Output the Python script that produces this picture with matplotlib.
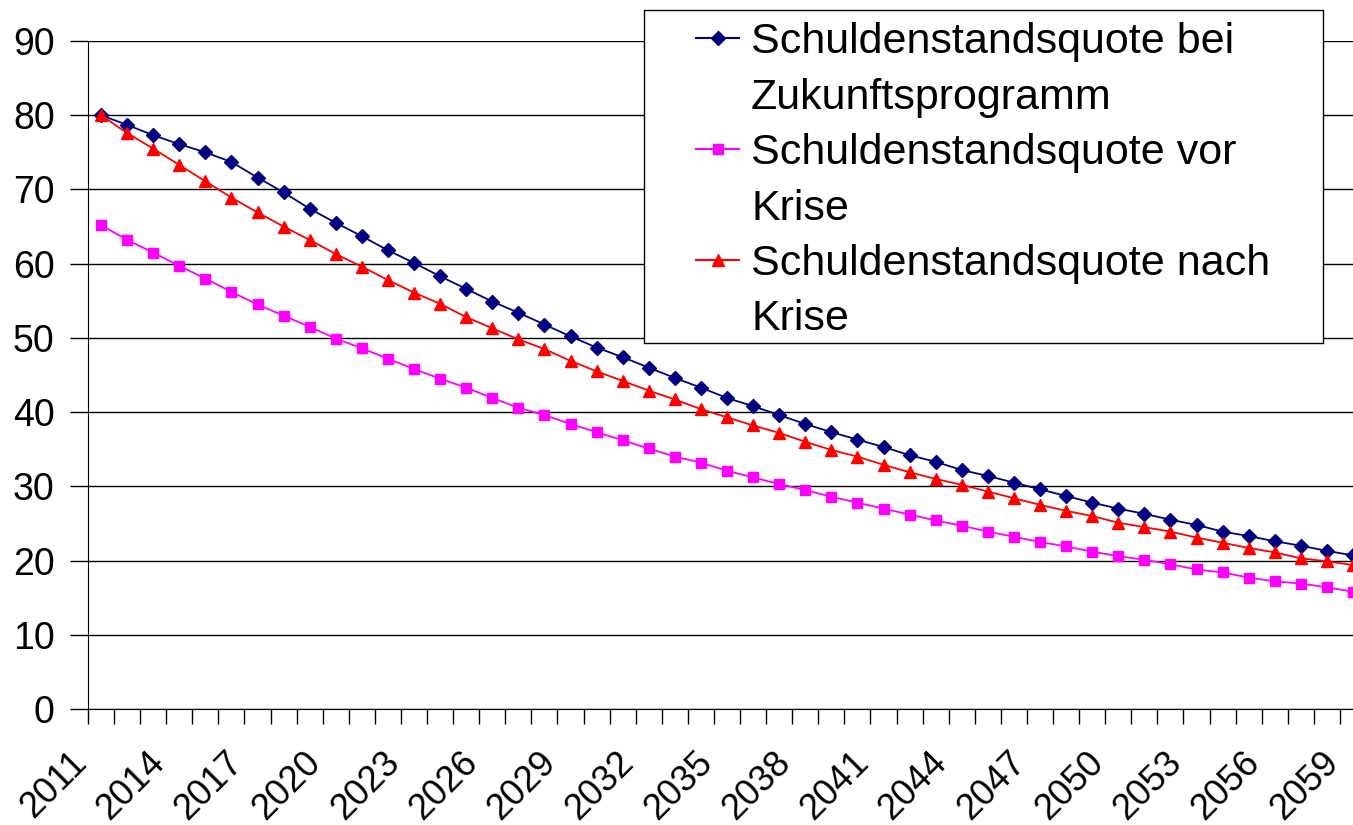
import numpy as np
import matplotlib
matplotlib.use("Agg")
import matplotlib.pyplot as plt
import matplotlib.transforms as mtransforms
from matplotlib.patches import Rectangle
from matplotlib.lines import Line2D

plt.rcParams['font.family'] = ['Liberation Sans', 'DejaVu Sans']

# Jahre 2011..2059 (eine Kategorie pro Jahr)
years = list(range(2011, 2060))

# Schuldenstandsquote bei Zukunftsprogramm
zukunft = [80.0, 78.7, 77.3, 76.1, 75.0, 73.7, 71.6, 69.6, 67.4, 65.5,
           63.7, 61.8, 60.1, 58.3, 56.6, 54.9, 53.4, 51.8, 50.2, 48.7,
           47.4, 46.0, 44.6, 43.3, 41.9, 40.8, 39.6, 38.4, 37.3, 36.3,
           35.3, 34.2, 33.3, 32.2, 31.4, 30.5, 29.6, 28.7, 27.8, 27.0,
           26.3, 25.5, 24.8, 23.9, 23.3, 22.6, 22.0, 21.3, 20.7]

# Schuldenstandsquote vor Krise
vor_krise = [65.2, 63.2, 61.5, 59.7, 58.0, 56.2, 54.5, 53.0, 51.5, 49.9,
             48.6, 47.2, 45.8, 44.5, 43.3, 41.9, 40.6, 39.6, 38.4, 37.3,
             36.2, 35.1, 34.0, 33.2, 32.1, 31.2, 30.3, 29.5, 28.6, 27.8,
             27.0, 26.2, 25.4, 24.7, 23.9, 23.2, 22.5, 21.9, 21.2, 20.6,
             20.1, 19.5, 18.8, 18.4, 17.7, 17.2, 16.9, 16.4, 15.8]

# Schuldenstandsquote nach Krise
nach_krise = [80.0, 77.6, 75.5, 73.3, 71.1, 68.9, 66.9, 65.0, 63.2, 61.3,
              59.6, 57.8, 56.1, 54.6, 52.8, 51.3, 49.8, 48.5, 46.9, 45.5,
              44.2, 42.9, 41.7, 40.4, 39.3, 38.2, 37.2, 36.0, 34.9, 34.0,
              32.9, 31.9, 31.0, 30.2, 29.3, 28.4, 27.5, 26.7, 26.0, 25.1,
              24.5, 23.9, 23.1, 22.4, 21.7, 21.1, 20.3, 19.9, 19.4]

# Legendentexte, je zwei Zeilen
labels = [('Schuldenstandsquote bei', 'Zukunftsprogramm'),
          ('Schuldenstandsquote vor', 'Krise'),
          ('Schuldenstandsquote nach', 'Krise')]

fig = plt.figure(figsize=(13.53, 8.25), dpi=100)
ax = fig.add_axes([88/1353, 116/825, 1 - 88/1353, 668/825])

x = np.arange(len(years))
l1, = ax.plot(x, zukunft, color='#000080', lw=1.3, marker='D', ms=7, clip_on=False)
l2, = ax.plot(x, vor_krise, color='#FF00FF', lw=1.3, marker='s', ms=7, clip_on=False)
l3, = ax.plot(x, nach_krise, color='#FF0000', lw=1.3, marker='^', ms=8, clip_on=False)

ax.set_xlim(-0.5, 48.0)
ax.set_ylim(0, 90)
ax.set_yticks(range(0, 91, 10))
ax.yaxis.grid(True, color='black', lw=1)
ax.set_axisbelow(True)
for s in ['top', 'right']:
    ax.spines[s].set_visible(False)
ax.tick_params(axis='y', length=13, width=1, labelsize=27, pad=11)

# Kategorieachse: Striche zwischen den Jahren, Beschriftung alle 3 Jahre
ax.set_xticks(np.arange(-0.5, 48, 1), minor=True)
ax.set_xticks(x[::3])
ax.set_xticklabels([str(y) for y in years[::3]], rotation=45, ha='right',
                   rotation_mode='anchor', va='center')
ax.tick_params(axis='x', which='major', length=0, labelsize=26, pad=35)
ax.tick_params(axis='x', which='minor', length=11, width=1)
off = mtransforms.ScaledTranslation(-20/100, 0, fig.dpi_scale_trans)
for lab in ax.get_xticklabels():
    lab.set_transform(lab.get_transform() + off)

# Legendenrahmen
box = Rectangle((644/1353, 1 - 343/825), (1323 - 644)/1353, (343 - 10)/825,
                transform=fig.transFigure, facecolor='white', edgecolor='black',
                lw=1, zorder=4, clip_on=False)
ax.add_patch(box)

blank = Line2D([], [], linestyle='none')
handles, texts = [], []
for h, (a, b) in zip([l1, l2, l3], labels):
    handles += [h, blank]
    texts += [a, b]

leg = ax.legend(handles, texts, loc='upper left',
                bbox_to_anchor=(696/1353, 1 - 22/825),
                bbox_transform=fig.transFigure, frameon=False,
                fontsize=31, handlelength=1.0, handletextpad=0.28,
                borderaxespad=0, borderpad=0, labelspacing=0.36,
                markerscale=1.0)
for lh in leg.legend_handles:
    lh.set_linewidth(1.5)

fig.savefig('out.png', dpi=100)
